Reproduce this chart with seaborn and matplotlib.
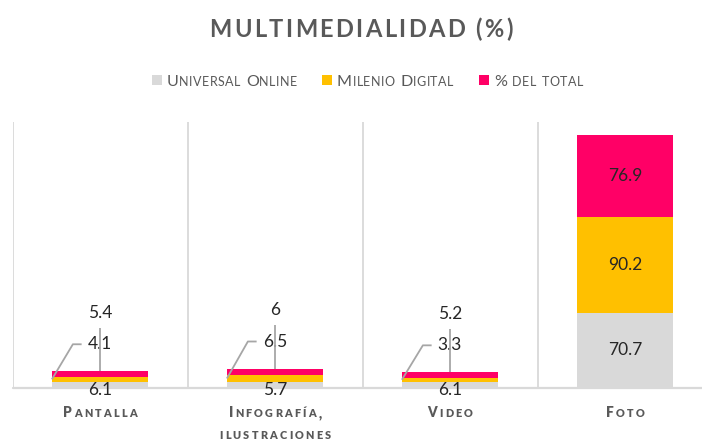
import matplotlib
matplotlib.use("Agg")
import matplotlib.pyplot as plt
import seaborn as sns
import pandas as pd
from matplotlib.patches import Rectangle

# ---- data ----
categories = ["Pantalla", "Infografía,\nilustraciones", "Video", "Foto"]
series_names = ["Universal Online", "Milenio Digital", "% del total"]
universal = [6.1, 5.7, 6.1, 70.7]
milenio = [4.1, 6.5, 3.3, 90.2]
total_pct = [5.4, 6.0, 5.2, 76.9]
colors = ["#D9D9D9", "#FFC000", "#FF0066"]
title = "MULTIMEDIALIDAD (%)"

sns.set_theme(style="white")
plt.rcParams['font.family'] = ['Lato', 'DejaVu Sans']

W, H = 702, 441
fig = plt.figure(figsize=(W / 100, H / 100), dpi=100)
fig.patch.set_facecolor("white")


def fx(x):
    return x / W


def fy(y):
    return 1 - y / H


PXU = 1.064  # pixels per data unit
ax = fig.add_axes([fx(12.5), fy(388), (W - 12.5) / W, (388 - 122) / H])

df = pd.DataFrame({"cat": categories, "u": universal, "m": milenio, "t": total_pct})
df["c1"] = df["u"]
df["c2"] = df["u"] + df["m"]
df["c3"] = df["c2"] + df["t"]

for col, color in zip(["c3", "c2", "c1"], colors[::-1]):
    sns.barplot(data=df, x="cat", y=col, order=categories, color=color,
                saturation=1, width=0.55, ax=ax, edgecolor="none", linewidth=0,
                errorbar=None)

ax.set_xlim(-0.5, -0.5 + (W - 12.5) / 175)
ax.set_ylim(0, 266 / PXU)
for s in ax.spines.values():
    s.set_visible(False)
ax.set_xticks([])
ax.set_yticks([])
ax.set_xlabel("")
ax.set_ylabel("")
for xv in [-0.5, 0.5, 1.5, 2.5]:
    ax.axvline(xv, color="#D9D9D9", lw=1.3, zorder=0)
ax.axhline(0, color="#D9D9D9", lw=1.6, zorder=0.5, clip_on=False)

# ---- data labels ----
lab_kw = dict(fontsize=12.5, color="#262626", ha="center", va="center", zorder=5)
lead_kw = dict(color="#A6A6A6", lw=1.3, zorder=6, solid_capstyle="butt")
bw = 0.55
for i in range(len(categories)):
    u, m, t = universal[i], milenio[i], total_pct[i]
    tot = u + m + t
    if tot >= 30:
        b = 0
        for v in (u, m, t):
            ax.text(i, b + v / 2, f"{v:g}", **lab_kw)
            b += v
    else:
        ax.annotate(f"{u:g}", xy=(i, 0), xytext=(0, -1.5), textcoords="offset points", **lab_kw)
        ym = tot + 25.5
        ax.text(i, ym, f"{m:g}", **lab_kw)
        ax.plot([i - bw / 2, i - bw / 2 + 0.12, i - bw / 2 + 0.17],
                [u + m / 2, ym, ym], **lead_kw)
        yt = tot + 55
        ax.text(i, yt, f"{t:g}", **lab_kw)
        ax.plot([i, i], [tot, yt - 14], **lead_kw)

renderer = fig.canvas.get_renderer()


def smallcaps(x, y, s, big, small, tracking, color, weight, ha="left"):
    items = []
    for ch in s:
        if ch == " ":
            items.append((None, 0.26 * big * 100 / 72))
            continue
        size = small if ch.islower() else big
        t = fig.text(0, 0, ch.upper(), fontsize=size, color=color,
                     fontweight=weight, va="baseline", ha="left")
        w = t.get_window_extent(renderer).width
        items.append((t, w))
    total = sum(w for _, w in items) + tracking * (len(items) - 1)
    x0 = x - total / 2 if ha == "center" else x
    for t, w in items:
        if t is not None:
            t.set_position((fx(x0), fy(y)))
        x0 += w + tracking


# ---- title ----
smallcaps(361, 37, title, 17, 17, 2.4, "#595959", "bold", ha="center")

# ---- legend ----
leg_sq_x = [152, 322, 479]
leg_tx_x = [167, 337, 494]
for name, c, sx, tx in zip(series_names, colors, leg_sq_x, leg_tx_x):
    fig.patches.append(Rectangle((fx(sx), fy(85)), 10 / W, 10 / H, transform=fig.transFigure,
                                 facecolor=c, edgecolor="none"))
    smallcaps(tx, 86, name, 11.6, 9.0, 0.5, "#595959", "normal")

# ---- category labels ----
for i, cat in enumerate(categories):
    cx = ax.transData.transform((i, 0))[0]
    for k, line in enumerate(cat.split("\n")):
        smallcaps(cx, 417 + 22 * k, line, 9.8, 7.8, 2.2, "#595959", "heavy", ha="center")

fig.savefig("out.png", dpi=100, facecolor="white")
